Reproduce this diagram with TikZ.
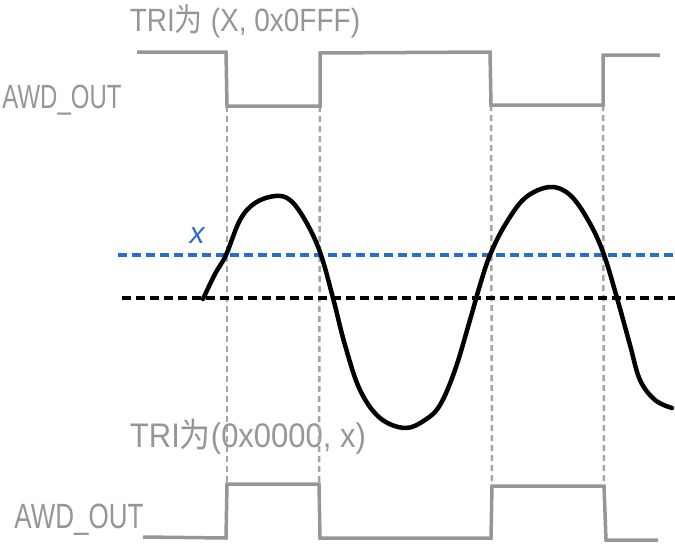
\documentclass[tikz,border=0pt]{standalone}
\usepackage{fontspec}
\setmainfont{Liberation Sans}
\newfontfamily\cjk{Noto Sans CJK SC}
\definecolor{wavegray}{RGB}{150,150,150}
\definecolor{guidegray}{RGB}{165,165,165}
\definecolor{xblue}{RGB}{40,110,200}
\begin{document}
\begin{tikzpicture}[x=1pt,y=-1pt,
  wave/.style={draw=wavegray, line width=3.5pt, line join=miter},
  guide/.style={draw=guidegray, line width=2.5pt, dash pattern=on 6pt off 4pt},
  lbl/.style={text=wavegray, inner sep=0pt},
  levelblue/.style={draw=xblue, line width=3.5pt, dash pattern=on 9pt off 5pt},
  levelblack/.style={draw=black, line width=3.5pt, dash pattern=on 9pt off 5pt},
  sig/.style={draw=black, line width=4.5pt, line join=round, line cap=round}]
\useasboundingbox (0,0) rectangle (675,547);
% labels
\node[lbl, font=\fontsize{28}{30}\selectfont] (toplbl) at (245,21) {\scalebox{1}[1.15]{TRI{\cjk 为} (X, 0x0FFF)}};
\node[lbl, font=\fontsize{24}{26}\selectfont] (topawd) at (62,100) {\scalebox{1}[1.4]{AWD\_OUT}};
\node[lbl, font=\fontsize{31}{33}\selectfont] (botlbl) at (248,437) {\scalebox{1}[1.1]{TRI{\cjk 为}(0x0000, x)}};
\node[lbl, font=\fontsize{26}{28}\selectfont] (botawd) at (79,520) {\scalebox{1}[1.35]{AWD\_OUT}};
\node[text=xblue, font=\fontsize{30}{32}\selectfont\itshape, inner sep=0pt] (xlbl) at (197,236) {x};
% edge coordinates
\coordinate (t1) at (227,106);
\coordinate (t2) at (320,106);
\coordinate (t3) at (491,105);
\coordinate (t4) at (603,105);
\coordinate (b1) at (227,484);
\coordinate (b2) at (319,484);
\coordinate (b3) at (492,486);
\coordinate (b4) at (604,486);
% guides
\draw[guide] (t1) -- (b1);
\draw[guide] (t2) -- (b2);
\draw[guide] (t3) -- (b3);
\draw[guide] (t4) -- (b4);
% level lines
\coordinate (bl0) at (118,255); \coordinate (bl1) at (675,255);
\coordinate (k0) at (122,298); \coordinate (k1) at (675,298);
\draw[levelblue] (bl0) -- (bl1);
\draw[levelblack] (k0) -- (k1);
% square waves
\draw[wave] (137,52) -- (226,52) -- (t1) -- (t2) -- (320,53) -- (490,52) -- (t3) -- (t4) -- (603,55) -- (660,55);
\draw[wave] (143,537) -- (226,538) -- (b1) -- (b2) -- (320,538) -- (491,538) -- (b3) -- (b4) -- (606,540) -- (658,540);
% signal
\draw[sig] plot[smooth, tension=0.6] coordinates {
 (203,299) (215,274) (226,255) (240,220) (255,203) (275,196) (290,200) (305,220)
 (320,252) (333,298) (345,345) (360,390) (380,418) (405,428) (425,420) (440,405)
 (455,370) (470,320) (480,285) (490,255) (505,225) (525,198) (550,187) (570,195)
 (588,220) (603,252) (617,298) (630,345) (640,380) (655,400) (672,408)};
\end{tikzpicture}
\end{document}
